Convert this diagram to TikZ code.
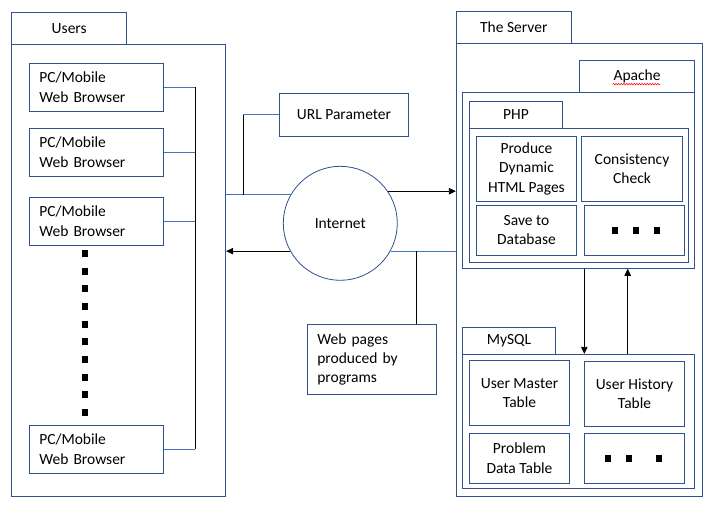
\documentclass[tikz,border=0pt]{standalone}
\usepackage{fontspec}
\setmainfont{Carlito}
\usetikzlibrary{positioning,arrows.meta,decorations.pathmorphing}
\definecolor{edgeblue}{HTML}{2F528F}
\definecolor{lineblue}{HTML}{4472C4}

\begin{document}
\begin{tikzpicture}[x=1pt,y=-1pt,
	every node/.style={font=\fontsize{15.5pt}{19.3pt}\selectfont},
	box/.style 2 args={draw=edgeblue, line width=0.9pt, inner sep=0pt, align=center, minimum width=#1, minimum height=#2},
	browser/.style={box={134.4pt}{47.7pt}, inner xsep=10pt, text width=114.4pt, align=left},
	blob/.style={fill=black, inner sep=0pt, minimum width=6pt, minimum height=7pt},
	link/.style={draw=lineblue, line width=0.8pt},
	wire/.style={draw=black, line width=0.8pt},
	flow/.style={wire, -{Triangle[length=7pt,width=6.5pt]}},
	]
	\useasboundingbox[fill=white] (0,0) rectangle (711,512);
	%Users
	\node[box={115pt}{31.7pt}]    (userstab) at (69.2,28.2)    {Users};
	\node[box={214pt}{452.7pt}]   (users)    at (118.7,270.35) {};
	\node[browser]                (b1)       at (96.5,87.2)    {PC/Mobile\\Web Browser};
	\node[browser]                (b2)       at (96.5,152.2)   {PC/Mobile\\Web Browser};
	\node[browser]                (b3)       at (96.5,221.3)   {PC/Mobile\\Web Browser};
	\node[browser]                (b4)       at (96.5,449.3)   {PC/Mobile\\Web Browser};
	\draw[line width=6pt, dash pattern=on 7pt off 10.7pt] (b3.south -| 85,0) ++(0,4.2) -- (85,416);
	
	%Internet
	\node[circle, draw=edgeblue, line width=0.8pt, minimum size=114pt, inner sep=0pt] (inet) at (340.3,223.3) {Internet};
	\node[box={129.4pt}{42.7pt}]  (url)      at (344,114.7)    {URL Parameter};
	\node[box={129.4pt}{70pt}, inner xsep=10pt, text width=109.4pt, align=left] (web) at (372,359.3) {Web pages\\produced by\\programs};
	
	%Server
	\node[box={115pt}{32pt}]      (servertab) at (513.8,27.3)  {The Server};
	\node[box={246pt}{453.4pt}]   (server)    at (579.3,270)   {};
	\node[box={115.4pt}{32pt}]    (apachetab) at (637,76.3)    {Apache};
	\node[box={232.4pt}{176pt}]   (apache)    at (578.5,180.3) {};
	\node[box={93.4pt}{26.7pt}]   (phptab)    at (516,114.65)  {PHP};
	\node[box={219.4pt}{134.3pt}] (php)       at (579,195.15)  {};
	\node[box={100.4pt}{65pt}]    (produce)   at (526.5,168.8) {Produce\\Dynamic\\HTML Pages};
	\node[box={101.4pt}{65pt}]    (check)     at (632,168.8)   {Consistency\\Check};
	\node[box={100.4pt}{50pt}]    (save)      at (526.5,230.3) {Save to\\Database};
	\node[box={100.4pt}{50pt}]    (phpmore)   at (634.5,230.3) {};
	\node[blob]                   (p1)        at (614.7,230)   {};
	\node[blob]                   (p2)        at (636,230)     {};
	\node[blob]                   (p3)        at (657.3,230)   {};
	\node[box={93.4pt}{26.6pt}]   (mysqltab)  at (509,341)     {MySQL};
	\node[box={232.4pt}{134.4pt}] (mysql)     at (578.5,421.5) {};
	\node[box={100.4pt}{65pt}]    (master)    at (519.5,392.8) {User Master\\Table};
	\node[box={100.4pt}{65pt}]    (history)   at (634.5,393.8) {User History\\Table};
	\node[box={100.4pt}{50pt}]    (problem)   at (519.5,458.3) {Problem\\Data Table};
	\node[box={100.4pt}{50pt}]    (sqlmore)   at (634.5,458.3) {};
	\node[blob]                   (s1)        at (608,458)     {};
	\node[blob]                   (s2)        at (629,458)     {};
	\node[blob]                   (s3)        at (659,458)     {};
	\draw[red, line width=0.5pt, decorate, decoration={snake, amplitude=0.8pt, segment length=2.6pt}]
		([xshift=-24.3pt,yshift=8.6pt]apachetab.south) -- ([xshift=23pt,yshift=8.6pt]apachetab.south);
	
	%Lines
	\coordinate (bus)  at (195,0);
	\coordinate (urlj) at (243.3,0);
	\coordinate (webj) at (416.7,0);
	\coordinate (down) at (584.3,0);
	\coordinate (up)   at (627.7,0);
	\draw[link] (b1.east) -- (b1.east -| bus);
	\draw[link] (b2.east) -- (b2.east -| bus);
	\draw[link] (b3.east) -- (b3.east -| bus);
	\draw[link] (b4.east) -- (b4.east -| bus);
	\draw[wire] (b1.east -| bus) -- (b4.east -| bus);
	\draw[link] (users.east |- inet.150) -- (inet.150);
	\draw[link] (url.west) -- (url.west -| urlj);
	\draw[wire] (url.west -| urlj) -- (urlj |- inet.150);
	\draw[flow] (inet.34) -- (inet.34 -| server.west);
	\draw[flow] (inet.209) -- (inet.209 -| users.east);
	\draw[link] (inet.331) -- (inet.331 -| server.west);
	\draw[wire] (webj |- inet.331) -- (webj |- web.north);
	\draw[flow] (down |- apache.south) -- (down |- mysql.north);
	\draw[flow] (up |- mysql.north) -- (up |- apache.south);
\end{tikzpicture}
\end{document}
